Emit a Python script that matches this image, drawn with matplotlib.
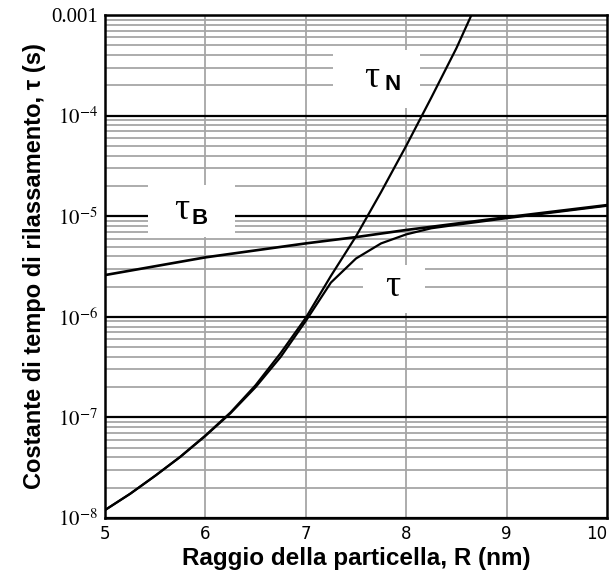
"""Relaxation time constants (Neel, Brown, effective) vs particle radius."""
import matplotlib
matplotlib.use("Agg")
import matplotlib.pyplot as plt
from matplotlib.patches import Rectangle
from matplotlib.ticker import FixedLocator, NullFormatter


# values
r_neel = [5.0, 5.25, 5.5, 5.75, 6.0, 6.25, 6.5, 6.75, 7.0, 7.25, 7.5, 7.75, 8.0, 8.25, 8.5, 8.65]
tau_neel = [1.2e-8, 1.74e-8, 2.63e-8, 4.07e-8, 6.61e-8, 1.12e-7, 2.09e-7, 4.37e-7, 9.77e-7,
            2.55e-6, 6.31e-6, 1.74e-5, 5.01e-5, 1.51e-4, 4.68e-4, 1.0e-3]

r_brown = [5.0, 6.0, 7.0, 7.5, 8.0, 9.0, 10.0]
tau_brown = [2.6e-6, 3.9e-6, 5.37e-6, 6.2e-6, 7.3e-6, 9.77e-6, 1.29e-5]

r_eff = [5.0, 5.25, 5.5, 5.75, 6.0, 6.25, 6.5, 6.75, 7.0, 7.25, 7.5, 7.75, 8.0, 8.25, 8.5, 9.0, 10.0]
tau_eff = [1.2e-8, 1.74e-8, 2.63e-8, 4.05e-8, 6.55e-8, 1.1e-7, 2.0e-7, 4.0e-7, 9.1e-7,
           2.19e-6, 3.8e-6, 5.37e-6, 6.6e-6, 7.59e-6, 8.22e-6, 9.55e-6, 1.27e-5]

y_major = [1e-8, 1e-7, 1e-6, 1e-5, 1e-4, 1e-3]
y_labels = [r"$10^{-8}$", r"$10^{-7}$", r"$10^{-6}$", r"$10^{-5}$", r"$10^{-4}$", "0.001"]
x_ticks = [5, 6, 7, 8, 9, 10]

# (R0, R1, tau0, tau1) white boxes behind the curve labels
label_boxes = [
    (7.27, 8.14, 1.2e-4, 4.5e-4),
    (5.43, 6.29, 6.2e-6, 2.05e-5),
    (7.57, 8.19, 1.09e-6, 3.3e-6),
]


def main():
    plt.rcParams["mathtext.fontset"] = "stix"
    fig = plt.figure(figsize=(6.14, 5.85), dpi=100)
    ax = fig.add_axes([0.171, 0.1145, 0.8176, 0.8598])
    ax.set_yscale("log")
    ax.set_xlim(5, 10)
    ax.set_ylim(1e-8, 1e-3)

    # grid: gray minor decades, black major decades, gray integer verticals
    minor = [m * 10.0 ** e for e in range(-8, -3) for m in range(2, 10)]
    for v in minor:
        ax.axhline(v, color="#a6a6a6", linewidth=1.3, zorder=0.5)
    for v in y_major:
        ax.axhline(v, color="black", linewidth=1.6, zorder=0.6)
    for v in x_ticks[1:-1]:
        ax.axvline(v, color="#a6a6a6", linewidth=1.3, zorder=0.5)

    for x0, x1, y0, y1 in label_boxes:
        ax.add_patch(Rectangle((x0, y0), x1 - x0, y1 - y0, facecolor="white",
                               edgecolor="none", zorder=1))

    ax.plot(r_neel, tau_neel, color="black", linewidth=1.6, zorder=3)
    ax.plot(r_brown, tau_brown, color="black", linewidth=1.9, zorder=3)
    ax.plot(r_eff, tau_eff, color="black", linewidth=1.6, zorder=3)

    serif = ["Liberation Serif", "DejaVu Serif"]
    ax.text(7.66, 2.4e-4, "τ", fontsize=27, family=serif, ha="center", va="center", zorder=4)
    ax.text(7.86, 2.05e-4, "N", fontsize=16, family="Liberation Sans", weight="bold",
            ha="center", va="center", zorder=4)
    ax.text(5.76, 1.17e-5, "τ", fontsize=27, family=serif, ha="center", va="center", zorder=4)
    ax.text(5.94, 9.4e-6, "B", fontsize=16, family="Liberation Sans", weight="bold",
            ha="center", va="center", zorder=4)
    ax.text(7.87, 2.0e-6, "τ", fontsize=27, family=serif, ha="center", va="center", zorder=4)

    ax.yaxis.set_major_locator(FixedLocator(y_major))
    ax.yaxis.set_minor_locator(FixedLocator([]))
    ax.yaxis.set_minor_formatter(NullFormatter())
    ax.set_yticklabels(y_labels, fontsize=15, family=serif)
    ax.set_xticks(x_ticks)
    xl = ax.set_xticklabels([str(v) for v in x_ticks], fontsize=12, family="DejaVu Sans")
    xl[-1].set_horizontalalignment("right")
    ax.tick_params(axis="both", which="both", length=0, pad=5)

    for s in ax.spines.values():
        s.set_linewidth(1.8)
        s.set_zorder(5)

    ax.set_xlabel("Raggio della particella, R (nm)", fontsize=17.5, weight="bold",
                  family="Liberation Sans", labelpad=3)
    ax.set_ylabel("Costante di tempo di rilassamento, τ (s)", fontsize=17, weight="bold",
                  family="Liberation Sans", labelpad=4)

    fig.savefig("out.png", dpi=100)


if __name__ == "__main__":
    main()
